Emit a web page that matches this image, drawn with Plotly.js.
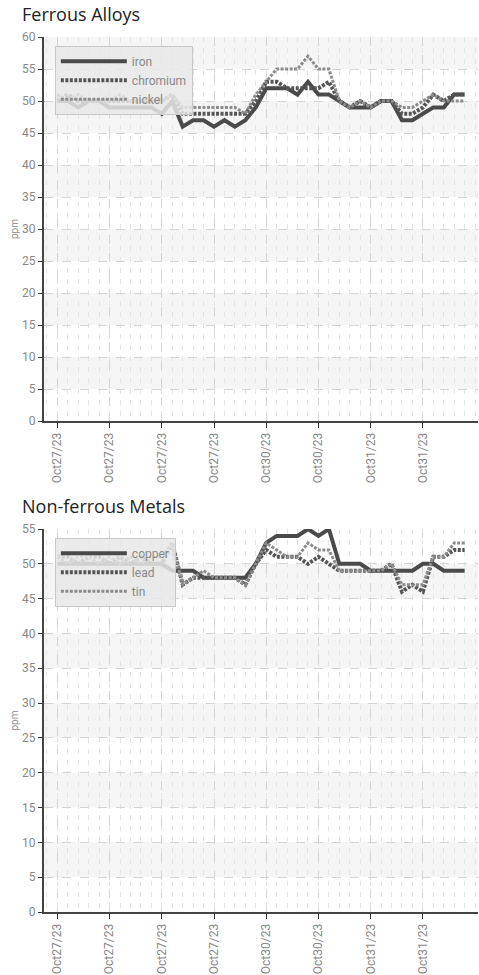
<!DOCTYPE html>
<html>
<head>
<meta charset="utf-8">
<script src="https://cdn.plot.ly/plotly-3.0.1.min.js"></script>
<style>
html,body{margin:0;padding:0;background:#fff;}
#c1{width:479px;height:487px;}
#c2{width:479px;height:488px;}
</style>
</head>
<body>
<div id="c1"></div>
<div id="c2"></div>
<script>
// ---- data ----
const xIndex = Array.from({length: 40}, (_, i) => i);
const tickPositions = [0, 5, 10, 15, 20, 25, 30, 35];
const tickLabels = ["Oct27/23","Oct27/23","Oct27/23","Oct27/23","Oct30/23","Oct30/23","Oct31/23","Oct31/23"];

const iron     = [50,50,49,50,50,49,49,49,49,49,48,50,46,47,47,46,47,46,47,49,52,52,52,51,53,51,51,50,49,49,49,50,50,47,47,48,49,49,51,51];
const chromium = [50,51,50,50,50,50,50,50,50,50,50,51,48,48,48,48,48,48,48,50,53,53,52,52,52,52,53,50,49,50,49,50,50,48,48,49,51,50,51,51];
const nickel   = [51,50,51,50,50,50,51,50,50,50,50,51,49,49,49,49,49,49,48,51,53,55,55,55,57,55,55,50,49,50,49,50,50,49,49,50,51,50,50,50];

const copper = [50,50,50,50,50,50,50,50,50,50,50,49,49,49,48,48,48,48,48,50,53,54,54,54,55,54,55,50,50,50,49,49,49,49,49,50,50,49,49,49];
const lead   = [51,51,50,51,51,50,51,50,51,50,50,53,47,48,48,48,48,48,47,50,52,51,51,51,50,51,50,49,49,49,49,49,50,46,47,46,51,51,52,52];
const tin    = [51,50,51,51,50,51,50,51,50,51,51,53,47,48,49,48,48,48,47,50,53,52,51,51,53,52,52,49,49,49,49,49,50,47,47,47,51,51,53,53];

const yTicksTop = [0,5,10,15,20,25,30,35,40,45,50,55,60];
const yTicksBottom = [0,5,10,15,20,25,30,35,40,45,50,55];

// ---- styling ----
const FONT = "Roboto";
const seriesStyle = [
  {color:'#4a4a4a', width:4, dash:'solid'},
  {color:'#555555', width:4, dash:'3px,1.5px'},
  {color:'#8c8c8c', width:3, dash:'3px,1.5px'}
];

function bands(ticks){
  const s = [];
  for (let i = 1; i < ticks.length - 1; i += 2) {
    s.push({type:'rect', xref:'paper', yref:'y', x0:0, x1:1, y0:ticks[i], y1:ticks[i+1],
      fillcolor:'#f5f5f5', line:{width:0}, layer:'below'});
  }
  return s;
}

function makeChart(el, title, names, series, yTicks, yMax, margin, titleY){
  const traces = series.map((ys, k) => ({
    type:'scatter', mode:'lines', x:xIndex, y:ys, name:names[k],
    line:{color:seriesStyle[k].color, width:seriesStyle[k].width, dash:seriesStyle[k].dash}
  }));
  const layout = {
    width:479, height: el === 'c1' ? 487 : 488,
    margin:margin,
    paper_bgcolor:'#fff', plot_bgcolor:'#fff',
    showlegend:true,
    title:{text:title, x:22/479, xanchor:'left', xref:'container', y:titleY, yref:'container', yanchor:'middle',
      font:{family:"Open Sans", size:18, color:'#222'}},
    legend:{x:0.025, y:0.977, xanchor:'left', yanchor:'top', bgcolor:'rgba(232,232,232,0.85)',
      bordercolor:'#c8c8c8', borderwidth:1, itemwidth:66, tracegroupgap:0,
      font:{family:FONT, size:12, color:'#888'}},
    xaxis:{type:'linear', range:[-1.28, 40.28], tickmode:'array', tickvals:tickPositions, ticktext:tickLabels,
      tickangle:-90, tickfont:{family:FONT, size:12, color:'#888'},
      showline:true, linecolor:'#444', linewidth:2, ticks:'outside', ticklen:5, tickcolor:'#333', tickwidth:1,
      showgrid:true, gridcolor:'#d4d4d4', griddash:'dash', gridwidth:1, zeroline:false,
      minor:{tickmode:'linear', tick0:0, dtick:1, showgrid:true, gridcolor:'#e4e4e4', griddash:'5px,6px', gridwidth:1, ticks:''}},
    yaxis:{range:[0, yMax], tickmode:'array', tickvals:yTicks, ticktext:yTicks.map(String),
      tickfont:{family:FONT, size:12, color:'#888'},
      showline:true, linecolor:'#444', linewidth:2, ticks:'outside', ticklen:4, tickcolor:'#333',
      showgrid:true, gridcolor:'#d4d4d4', griddash:'dash', gridwidth:1, zeroline:false,
      title:{text:'ppm', font:{family:FONT, size:10, color:'#888'}, standoff:2}},
    shapes:bands(yTicks)
  };
  Plotly.newPlot(el, traces, layout, {displayModeBar:false, staticPlot:true});
}

makeChart('c1', 'Ferrous Alloys', ['iron','chromium','nickel'], [iron, chromium, nickel], yTicksTop, 60,
  {l:44, r:1, t:37, b:66}, 1 - 15/487);
makeChart('c2', 'Non-ferrous Metals', ['copper','lead','tin'], [copper, lead, tin], yTicksBottom, 55,
  {l:44, r:1, t:42, b:63}, 1 - 20/488);
</script>
</body>
</html>
